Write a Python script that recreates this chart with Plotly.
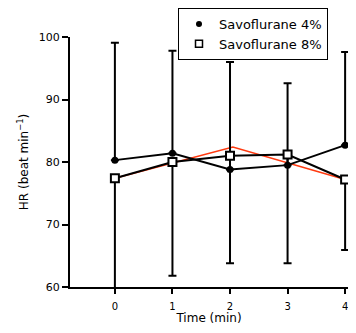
import plotly.graph_objects as go

time_min = [0, 1, 2, 3, 4]

# Savoflurane 4% (filled circles), mean and upper SD limit
sevo4_mean = [80.3, 81.4, 78.8, 79.5, 82.7]
sevo4_upper = [99.1, 97.8, 96.0, 92.6, 97.6]

# Savoflurane 8% (open squares), mean and lower SD limit
sevo8_mean = [77.4, 80.0, 81.0, 81.2, 77.2]
sevo8_lower = [59.5, 61.8, 63.8, 63.8, 65.9]

# red overlay line
red_x = [0, 2.05, 4]
red_y = [77.4, 82.4, 77.2]

y_ticks = [60, 70, 80, 90, 100]

plus4 = [u - m for u, m in zip(sevo4_upper, sevo4_mean)]
minus8 = [m - l for m, l in zip(sevo8_mean, sevo8_lower)]

FONT = "DejaVu Sans, Arial, sans-serif"

# page body has an 8px margin; keep the figure inside the window
W, H = 340, 317
L, T, B = 62, 29, 38
PW, PH = W - L, H - T - B

fig = go.Figure()

fig.add_trace(go.Scatter(
    x=red_x, y=red_y, mode="lines",
    line=dict(color="#ff3a10", width=1.6),
    showlegend=False, hoverinfo="skip"))

fig.add_trace(go.Scatter(
    x=time_min, y=sevo4_mean, mode="lines+markers",
    line=dict(color="black", width=2),
    marker=dict(symbol="circle", size=7, color="black"),
    error_y=dict(type="data", symmetric=False, array=plus4,
                 arrayminus=[0] * 5, color="black", thickness=2, width=4),
    showlegend=False, cliponaxis=False))

fig.add_trace(go.Scatter(
    x=time_min, y=sevo8_mean, mode="lines+markers",
    line=dict(color="black", width=2),
    marker=dict(symbol="square", size=8, color="white",
                line=dict(color="black", width=2)),
    error_y=dict(type="data", symmetric=False, array=[0] * 5,
                 arrayminus=minus8, color="black", thickness=2, width=4),
    showlegend=False, cliponaxis=False))

fig.add_trace(go.Scatter(
    x=[None], y=[None], mode="markers", name="Savoflurane 4%",
    marker=dict(symbol="circle", size=6, color="black")))
fig.add_trace(go.Scatter(
    x=[None], y=[None], mode="markers", name="Savoflurane 8%",
    marker=dict(symbol="square", size=7, color="white",
                line=dict(color="black", width=1.5))))

fig.update_layout(
    width=W, height=H,
    margin=dict(l=L, r=0, t=T, b=B, autoexpand=False),
    paper_bgcolor="white", plot_bgcolor="white",
    font=dict(family=FONT, color="black", size=12),
    showlegend=True,
    legend=dict(x=(170 - L) / PW, y=1 + (T - 0) / PH,
                xanchor="left", yanchor="top",
                bordercolor="black", borderwidth=1, bgcolor="white",
                font=dict(size=13, family=FONT), itemwidth=30, tracegroupgap=0),
    xaxis=dict(range=[-0.78, 4.05], tickvals=time_min, showgrid=False,
               automargin=False, ticklabeloverflow="allow",
               zeroline=False, showline=True, linecolor="black", linewidth=2,
               ticks="outside", ticklen=5, tickwidth=2, tickcolor="black",
               tickfont=dict(size=10), ticklabelstandoff=4,
               title=dict(text="Time (min)", font=dict(size=12), standoff=6)),
    yaxis=dict(range=[60, 100], tickvals=y_ticks, showgrid=False,
               automargin=False,
               zeroline=False, showline=True, linecolor="black", linewidth=2,
               ticks="outside", ticklen=6, tickwidth=2, tickcolor="black",
               tickfont=dict(size=11),
               title=dict(text="HR (beat min<sup>−1</sup>)", font=dict(size=12),
                          standoff=8)),
)

fig.write_html("out.html")
